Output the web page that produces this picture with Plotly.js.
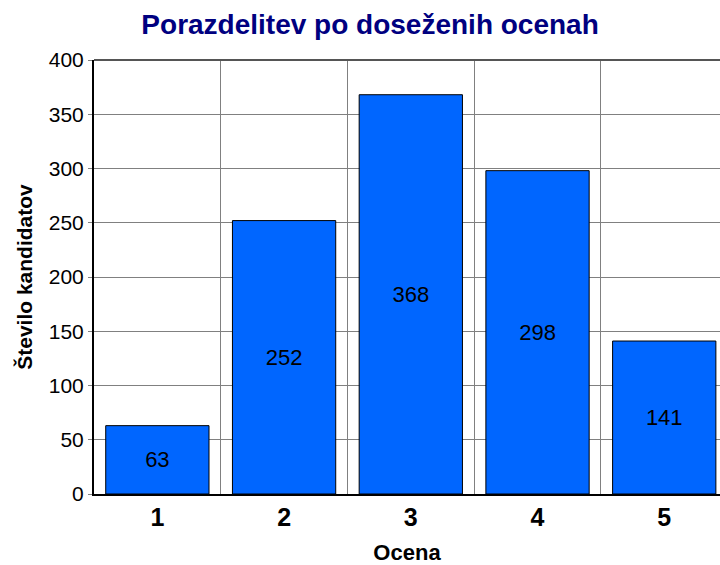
<!DOCTYPE html>
<html>
<head>
<meta charset="utf-8">
<script src="https://cdn.plot.ly/plotly-3.0.1.min.js"></script>
<style>html,body{margin:0;padding:0;background:#fff;}#chart{width:720px;height:565px;}</style>
</head>
<body>
<div id="chart"></div>
<script>
const categories = ['1', '2', '3', '4', '5'];
const counts = [63, 252, 368, 298, 141];
const yTicks = [0, 50, 100, 150, 200, 250, 300, 350, 400];

const trace = {
  type: 'bar',
  x: categories,
  y: counts,
  text: counts.map(String),
  textposition: 'inside',
  insidetextanchor: 'middle',
  textangle: 0,
  insidetextfont: {family: 'Arial, Liberation Sans, sans-serif', size: 22, color: '#000'},
  marker: {color: '#0066FF', line: {color: '#000', width: 1}},
  hoverinfo: 'none'
};

const layout = {
  width: 720, height: 565,
  margin: {l: 94, r: 0, t: 60, b: 71},
  paper_bgcolor: '#fff', plot_bgcolor: '#fff',
  bargap: 0.185,
  showlegend: false,
  title: {
    text: 'Porazdelitev po doseženih ocenah',
    font: {family: 'Arial, Liberation Sans, sans-serif', size: 28, color: '#000080', weight: 'bold'},
    x: 0.514, xanchor: 'center', y: 0.958, yanchor: 'middle', xref: 'container', yref: 'container'
  },
  font: {family: 'Arial, Liberation Sans, sans-serif', color: '#000'},
  xaxis: {
    type: 'category',
    range: [-0.5, 4.44],
    tickson: 'boundaries',
    showgrid: true, gridcolor: '#808080', gridwidth: 1,
    ticks: '', showline: true, linecolor: '#000', linewidth: 2,
    tickfont: {size: 25, weight: 'bold', color: '#000'},
    title: {text: 'Ocena', font: {size: 22, weight: 'bold', color: '#000'}, standoff: 15},
    zeroline: false, fixedrange: true
  },
  yaxis: {
    range: [0, 400],
    tickvals: yTicks,
    ticktext: yTicks.map(String),
    showgrid: true, gridcolor: '#808080', gridwidth: 1,
    ticks: 'outside', ticklen: 4, tickcolor: '#808080',
    showline: true, linecolor: '#000', linewidth: 2,
    tickfont: {size: 21, color: '#000'},
    title: {text: 'Število kandidatov', font: {size: 21, weight: 'bold', color: '#000'}, standoff: 10},
    zeroline: false, fixedrange: true
  },
  shapes: [
    {type: 'line', xref: 'paper', yref: 'paper', x0: 0, x1: 1, y0: 1, y1: 1, line: {color: '#555', width: 2}}
  ]
};

Plotly.newPlot('chart', [trace], layout, {displayModeBar: false, staticPlot: true});
</script>
</body>
</html>
